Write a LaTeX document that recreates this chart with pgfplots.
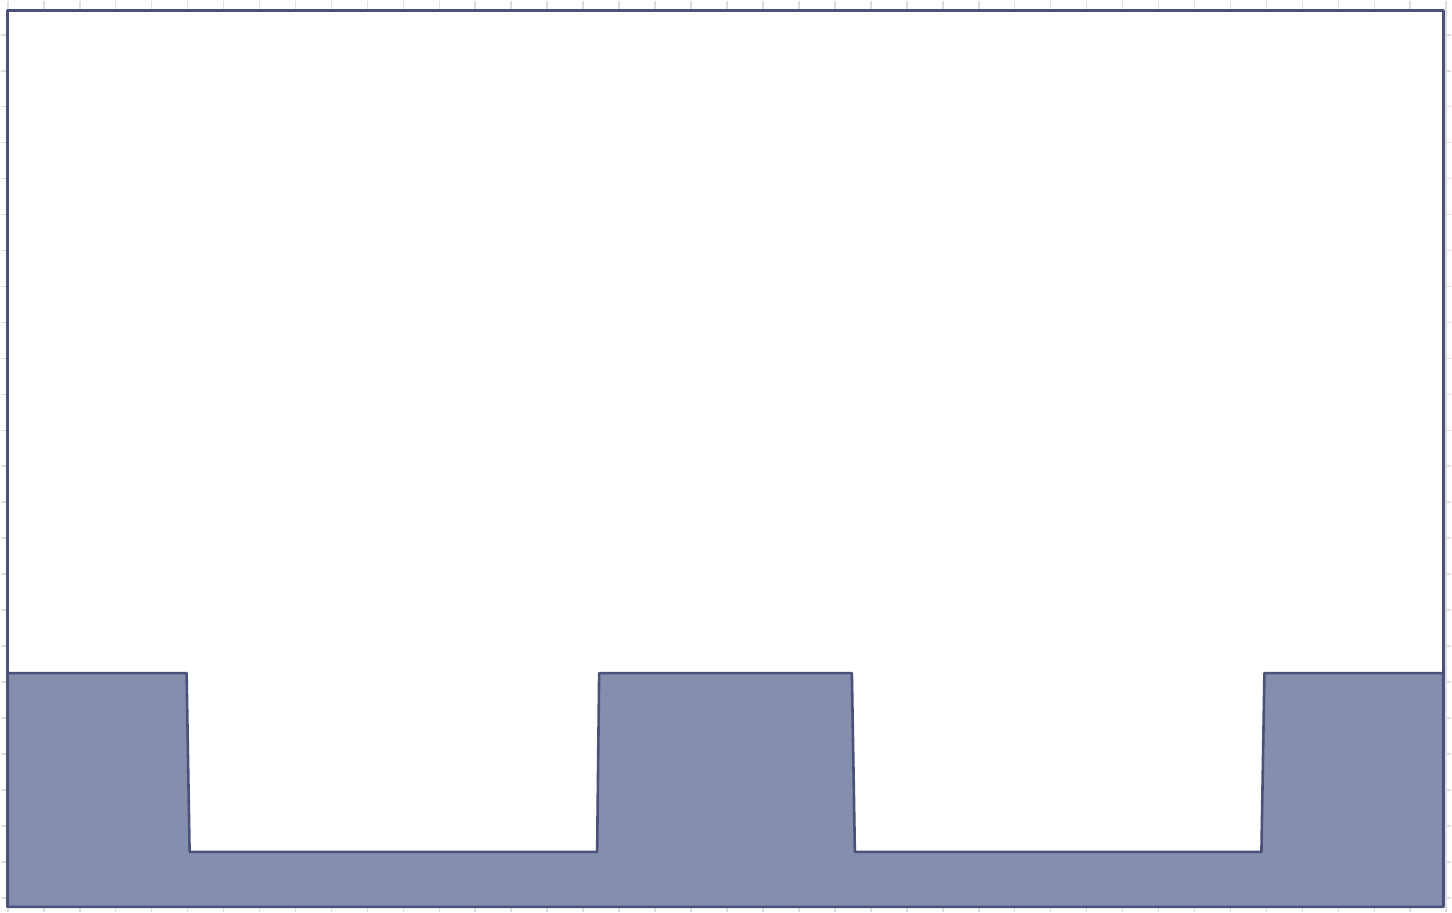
\documentclass[border=0pt]{standalone}
\usepackage{pgfplots}
\pgfplotsset{compat=1.18}

\definecolor{edgeblue}{RGB}{74,82,122}
\definecolor{fillblue}{RGB}{134,142,174}
\definecolor{gridgray}{RGB}{222,222,226}

\begin{document}
\begin{tikzpicture}
\begin{axis}[
    width=726pt, height=456pt,
    scale only axis,
    xmin=0, xmax=1452,
    ymin=0, ymax=912,
    y dir=reverse,
    axis line style={draw=none},
    tick style={draw=none},
    xtick={7,43,...,1447},
    ytick={-2,34,...,934},
    xticklabels={}, yticklabels={},
    xticklabel style={overlay}, yticklabel style={overlay},
    grid=major,
    major grid style={gridgray, line width=0.8pt},
]
% plot frame
\addplot[draw=edgeblue, fill=white, line width=1.3pt, line join=round] coordinates {
    (7,10) (1444,10) (1444,907) (7,907)
} -- cycle;
% stepped area
\addplot[draw=edgeblue, fill=fillblue, line width=1.3pt, line join=round] coordinates {
    (7,907) (7,673) (186,673) (189,852) (597,852) (599,673) (852,673)
    (855,852) (1262,852) (1265,673) (1444,673) (1444,907)
} -- cycle;
\end{axis}
\end{tikzpicture}
\end{document}
